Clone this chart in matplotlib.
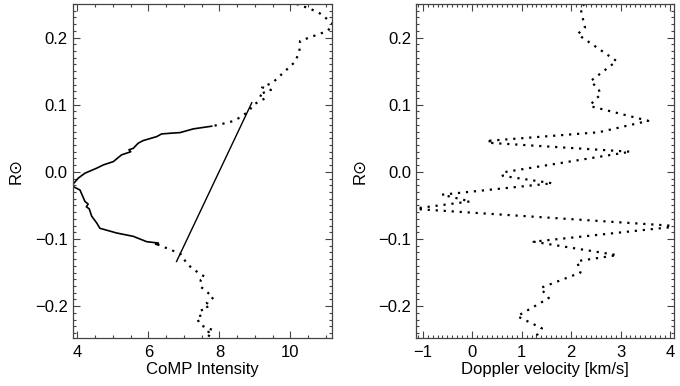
import matplotlib
matplotlib.use("Agg")
import matplotlib.pyplot as plt
from matplotlib.ticker import MultipleLocator

plt.rcParams['font.family'] = ['Liberation Sans', 'DejaVu Sans']
plt.rcParams['mathtext.fontset'] = 'dejavusans'

# ---- Left panel: CoMP intensity profile ----
upper_dot_x = [10.17, 10.55, 10.83, 11.07, 11.20, 11.05, 10.27, 10.25, 10.13, 9.50, 9.20, 9.45,
               9.10, 9.30, 8.95, 8.85, 8.62, 8.34, 7.97, 7.78]
upper_dot_y = [0.250, 0.243, 0.236, 0.226, 0.220, 0.210, 0.195, 0.179, 0.164, 0.133, 0.126, 0.122,
               0.115, 0.110, 0.100, 0.092, 0.082, 0.075, 0.070, 0.068]

core_x = [7.78, 7.26, 6.89, 6.61, 6.37, 6.23, 5.85, 5.71, 5.57, 5.45, 5.50, 5.24, 5.01, 4.73,
          4.54, 4.21, 4.02, 3.88, 3.88, 4.07, 4.21, 4.30, 4.25, 4.33, 4.40, 4.54, 4.63,
          5.10, 5.57, 5.95, 6.28, 6.20, 6.25]
core_y = [0.068, 0.064, 0.0585, 0.0575, 0.0565, 0.0525, 0.0466, 0.0427, 0.035, 0.033, 0.030,
          0.0253, 0.0153, 0.0104, 0.0055, -0.002, -0.0094, -0.018, -0.022, -0.027, -0.044,
          -0.048, -0.052, -0.055, -0.066, -0.076, -0.084, -0.091, -0.096, -0.104, -0.106,
          -0.108, -0.108]

lower_dot_x = [6.25, 6.90, 7.10, 7.47, 7.59, 7.47, 7.47, 7.83, 7.64, 7.75, 7.49, 7.54, 7.36,
               7.45, 7.83, 7.60, 7.75, 7.85]
lower_dot_y = [-0.108, -0.122, -0.138, -0.153, -0.156, -0.161, -0.171, -0.187, -0.195, -0.200,
               -0.203, -0.213, -0.216, -0.228, -0.236, -0.240, -0.246, -0.255]

fit_x = [6.79, 8.91]
fit_y = [-0.1335, 0.103]

# ---- Right panel: Doppler velocity profile ----
vel_x = [2.27, 2.19, 2.26, 2.28, 2.13, 2.92, 2.39, 2.55, 2.60, 2.47, 2.38, 3.56, 2.56, 0.28,
         0.45, 0.40, 3.20, 0.60, 0.62, 1.62, -0.61, -0.04, -1.20, 4.20, 3.54, 1.24, 2.93,
         2.12, 2.19, 1.38, 1.55, 0.91, 1.41, 1.31, 1.35]
vel_y = [0.250, 0.244, 0.221, 0.215, 0.205, 0.165, 0.135, 0.124, 0.115, 0.107, 0.098, 0.076,
         0.059, 0.046, 0.045, 0.043, 0.030, -0.001, -0.006, -0.017, -0.034, -0.044, -0.055,
         -0.081, -0.086, -0.104, -0.124, -0.133, -0.150, -0.173, -0.188, -0.215, -0.233,
         -0.243, -0.255]

dot_style = dict(color='black', linewidth=1.6, linestyle=(0, (1, 2.6)))
spine_col = '#444444'

fig = plt.figure(figsize=(6.8, 3.86), dpi=100)
ax1 = fig.add_axes([0.1069, 0.1251, 0.3806, 0.8645])
ax2 = fig.add_axes([0.6118, 0.1251, 0.3794, 0.8645])

ax1.plot(upper_dot_x, upper_dot_y, **dot_style)
ax1.plot(lower_dot_x, lower_dot_y, **dot_style)
ax1.plot(core_x, core_y, color='black', linewidth=1.2)
ax1.plot(fit_x, fit_y, color='black', linewidth=1.0)
ax1.set_xlim(3.865, 11.155)
ax1.xaxis.set_major_locator(MultipleLocator(2))
ax1.xaxis.set_minor_locator(MultipleLocator(0.5))
ax1.set_xlabel('CoMP Intensity', fontsize=12, labelpad=1.5)

ax2.plot(vel_x, vel_y, **dot_style)
ax2.set_xlim(-1.135, 4.08)
ax2.xaxis.set_major_locator(MultipleLocator(1))
ax2.xaxis.set_minor_locator(MultipleLocator(0.1))
ax2.set_xlabel('Doppler velocity [km/s]', fontsize=12, labelpad=1.5)

for ax in (ax1, ax2):
    ax.set_ylim(-0.247, 0.25)
    ax.yaxis.set_major_locator(MultipleLocator(0.1))
    ax.yaxis.set_minor_locator(MultipleLocator(0.01))
    ax.yaxis.set_major_formatter(plt.FuncFormatter(lambda v, p: ('%.1f' % v).replace('-', '\u2212')))
    ax.set_ylabel('R\u2299', fontsize=12, labelpad=8)
    ax.tick_params(which='both', direction='in', top=True, right=True, colors=spine_col,
                   labelcolor='black', labelsize=12, width=0.8)
    ax.tick_params(which='major', length=5)
    ax.tick_params(which='minor', length=2.5)
    ax.tick_params(axis='x', which='major', pad=5)
    ax.tick_params(axis='y', which='major', pad=3.5)
    for s in ax.spines.values():
        s.set_color(spine_col)
        s.set_linewidth(0.9)

fig.savefig('out.png', dpi=100)
